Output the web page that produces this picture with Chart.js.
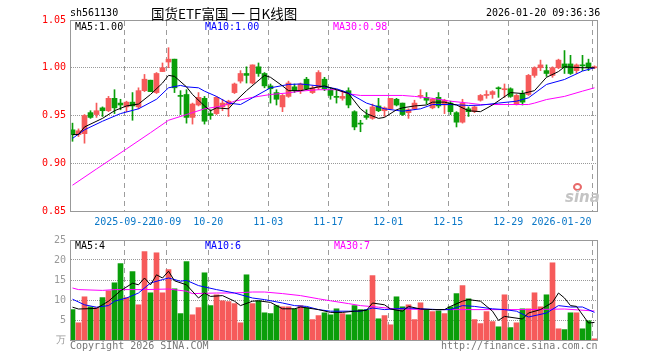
<!DOCTYPE html>
<html><head><meta charset="utf-8">
<script src="https://cdn.jsdelivr.net/npm/chart.js@4.4.1/dist/chart.umd.min.js"></script>
<style>
html,body{margin:0;padding:0;background:#fff;width:660px;height:360px;overflow:hidden;position:relative;}
canvas{position:absolute;left:0;}
#c1{top:0;width:660px;height:236px;}
#c2{top:230px;width:660px;height:130px;}
.t{position:absolute;white-space:pre;font-family:"DejaVu Sans Mono",monospace;font-size:10px;line-height:12px;}
</style></head><body>
<canvas id="c1" width="660" height="236"></canvas>
<canvas id="c2" width="660" height="130"></canvas>
<div class="t" style="left:70px;top:7px;color:#000">sh561130</div>
<div class="t" style="left:151px;top:4px;font-family:'Noto Sans CJK SC',sans-serif;font-size:13.5px;line-height:18px;color:#000">国货ETF富国 一 日K线图</div>
<div class="t" style="left:486px;top:7px;color:#000">2026-01-20 09:36:36</div>
<div class="t" style="left:75px;top:21px;color:#000">MA5:1.00</div>
<div class="t" style="left:205px;top:21px;color:#0000ff">MA10:1.00</div>
<div class="t" style="left:333px;top:21px;color:#ff00ff">MA30:0.98</div>
<div class="t" style="left:75px;top:240px;color:#000">MA5:4</div>
<div class="t" style="left:205px;top:240px;color:#0000ff">MA10:6</div>
<div class="t" style="left:334px;top:240px;color:#ff00ff">MA30:7</div>
<div class="t" style="left:70px;top:340px;color:#777">Copyright 2026 SINA.COM</div>
<div class="t" style="left:441px;top:340px;color:#777">http://finance.sina.com.cn</div>
<div style="position:absolute;left:573px;top:183px;width:5px;height:4px;border:2px solid #e86a6a;border-radius:50%;"></div>
<div class="t" style="left:565px;top:190px;font-family:'DejaVu Sans',sans-serif;font-weight:bold;font-style:italic;font-size:15px;line-height:15px;color:#c4c4c4">sina</div>
<script>
const dates = ['2025-09-09','2025-09-10','2025-09-11','2025-09-12','2025-09-15','2025-09-16','2025-09-17','2025-09-18','2025-09-19','2025-09-22',
'2025-09-23','2025-09-24','2025-09-25','2025-09-26','2025-09-29','2025-09-30','2025-10-09','2025-10-10','2025-10-13','2025-10-14',
'2025-10-15','2025-10-16','2025-10-17','2025-10-20','2025-10-21','2025-10-22','2025-10-23','2025-10-24','2025-10-27','2025-10-28',
'2025-10-29','2025-10-30','2025-10-31','2025-11-03','2025-11-04','2025-11-05','2025-11-06','2025-11-07','2025-11-10','2025-11-11',
'2025-11-12','2025-11-13','2025-11-14','2025-11-17','2025-11-18','2025-11-19','2025-11-20','2025-11-21','2025-11-24','2025-11-25',
'2025-11-26','2025-11-27','2025-11-28','2025-12-01','2025-12-02','2025-12-03','2025-12-04','2025-12-05','2025-12-08','2025-12-09',
'2025-12-10','2025-12-11','2025-12-12','2025-12-15','2025-12-16','2025-12-17','2025-12-18','2025-12-19','2025-12-22','2025-12-23',
'2025-12-24','2025-12-25','2025-12-26','2025-12-29','2025-12-30','2025-12-31','2026-01-05','2026-01-06','2026-01-07','2026-01-08',
'2026-01-09','2026-01-12','2026-01-13','2026-01-14','2026-01-15','2026-01-16','2026-01-19','2026-01-20'];

const opens = [0.935,0.930,0.931,0.953,0.951,0.958,0.955,0.968,0.963,0.959, 0.964,0.959,0.976,0.987,0.974,0.996,1.006,1.009,0.971,0.972,
0.948,0.961,0.968,0.952,0.952,0.959,0.961,0.974,0.986,0.994, 0.984,1.001,0.994,0.981,0.974,0.959,0.970,0.980,0.976,0.988,
0.974,0.979,0.988,0.977,0.970,0.968,0.976,0.954,0.942,0.950, 0.947,0.960,0.955,0.957,0.967,0.963,0.953,0.957,0.970,0.969,
0.958,0.969,0.961,0.963,0.953,0.943,0.957,0.954,0.966,0.971, 0.972,0.979,0.977,0.978,0.962,0.973,0.972,0.992,1.000,0.997,
0.992,1.000,1.004,1.004,0.997,1.003,1.005,1.000];
const highs = [0.942,0.936,0.951,0.955,0.963,0.959,0.970,0.977,0.967,0.965, 0.974,0.979,0.993,0.987,0.995,1.005,1.021,1.009,0.976,0.977,
0.963,0.974,0.970,0.956,0.970,0.967,0.966,0.984,0.997,1.001, 1.003,1.005,0.995,0.983,0.977,0.972,0.986,0.983,0.984,0.990,
0.981,0.997,0.990,0.979,0.977,0.976,0.979,0.955,0.945,0.956, 0.962,0.968,0.959,0.968,0.968,0.963,0.957,0.966,0.977,0.974,
0.968,0.974,0.967,0.965,0.954,0.967,0.959,0.960,0.972,0.976, 0.976,0.980,0.983,0.979,0.972,0.976,0.993,1.001,1.008,1.003,
1.001,1.009,1.018,1.013,1.004,1.013,1.009,1.002];
const lows = [0.923,0.928,0.921,0.947,0.948,0.949,0.954,0.952,0.956,0.954, 0.945,0.957,0.975,0.975,0.973,0.996,1.000,0.974,0.951,0.942,
0.941,0.960,0.941,0.946,0.951,0.955,0.949,0.973,0.984,0.984, 0.983,0.991,0.979,0.963,0.961,0.954,0.969,0.974,0.973,0.977,
0.973,0.977,0.976,0.967,0.963,0.966,0.958,0.935,0.933,0.946, 0.946,0.954,0.949,0.956,0.960,0.950,0.947,0.956,0.968,0.962,
0.957,0.958,0.952,0.951,0.938,0.942,0.949,0.953,0.965,0.968, 0.968,0.969,0.969,0.969,0.961,0.961,0.971,0.990,0.997,0.991,
0.990,0.999,0.994,0.993,0.994,0.997,0.997,0.999];
const closes = [0.930,0.934,0.950,0.948,0.955,0.955,0.968,0.958,0.961,0.964, 0.960,0.976,0.988,0.975,0.994,1.000,1.009,0.979,0.970,0.948,
0.962,0.969,0.944,0.950,0.969,0.963,0.965,0.983,0.994,0.992, 1.003,0.994,0.981,0.978,0.967,0.971,0.984,0.976,0.983,0.978,
0.979,0.995,0.978,0.971,0.969,0.970,0.961,0.938,0.941,0.948, 0.959,0.955,0.958,0.968,0.961,0.951,0.956,0.963,0.971,0.966,
0.967,0.960,0.966,0.954,0.943,0.963,0.954,0.959,0.971,0.972, 0.975,0.978,0.978,0.970,0.971,0.964,0.992,1.000,1.003,0.994,
1.000,1.008,1.000,0.994,1.003,1.002,1.000,1.001];
const volumes = [7.6,4.3,10.8,8.3,8.1,10.6,12.3,14.3,19.1,10.6, 17.1,8.8,22.1,11.8,21.8,11.8,17.6,12.8,6.6,19.6,
6.3,8.1,16.8,8.6,11.3,9.8,9.6,9.1,4.3,16.3, 9.1,9.8,6.8,6.6,8.6,8.3,8.3,7.8,8.6,8.1,
5.1,6.1,6.8,6.3,7.8,6.6,6.3,8.6,7.6,7.6, 16.1,5.3,6.1,3.8,10.8,8.3,8.8,5.1,9.3,7.6,
7.1,7.3,6.6,8.3,11.6,13.6,10.3,5.1,4.1,7.1, 4.6,3.3,11.3,3.1,4.3,7.8,7.8,11.8,8.3,11.3,
19.3,2.8,2.6,6.8,6.8,2.8,4.8,0.3];

// moving-average lines: [day index, value]
const ma5Price = [[0,.930],[1,.930],[2,.938],[5,.947],[7,.955],[9,.960],[11,.962],[13,.972],[15,.984],[16,.992],[17,.991],[19,.980],[20,.972],[22,.960],[23,.955],[24,.958],[26,.957],[27,.964],[29,.976],[32,.992],[33,.990],[35,.981],[36,.976],[38,.976],[41,.980],[42,.981],[44,.977],[46,.973],[48,.957],[49,.952],[51,.947],[52,.948],[54,.956],[55,.958],[57,.960],[59,.961],[60,.964],[62,.964],[64,.961],[66,.955],[68,.954],[70,.961],[73,.974],[75,.973],[77,.976],[79,.990],[81,.996],[82,1.001],[85,1.000],[87,1.000]];
const ma10Price = [[0,.926],[2,.935],[5,.944],[8,.952],[11,.957],[14,.967],[16,.979],[18,.9815],[19,.980],[21,.979],[22,.9755],[24,.970],[26,.963],[28,.9615],[30,.9685],[33,.979],[36,.9825],[38,.983],[41,.981],[44,.978],[46,.9737],[49,.963],[52,.957],[55,.9545],[58,.957],[60,.9615],[63,.9615],[66,.9605],[68,.9608],[71,.963],[74,.965],[76,.9685],[79,.9825],[82,.9877],[85,.9965],[87,1.000]];
const ma30Price = [[0,.877],[4,.894],[9,.915],[13,.932],[16,.945],[19,.951],[22,.957],[25,.960],[27,.965],[30,.969],[33,.972],[36,.9737],[38,.9755],[41,.977],[44,.977],[46,.9727],[48,.971],[55,.971],[57,.970],[60,.968],[63,.965],[66,.963],[68,.9615],[76,.9615],[77,.963],[79,.9667],[82,.970],[85,.9755],[87,.979]];
const ma5Vol = [[0,8.2],[1,7.75],[4,7.9],[6,9.7],[8,12.3],[10,14.2],[11,13.8],[12,15.5],[13,13.8],[14,16.3],[15,15.5],[16,17.2],[17,14.8],[19,13.8],[21,10.5],[22,11.75],[23,10.9],[25,11.1],[27,9.7],[28,8.6],[30,9.7],[31,9.8],[33,9.4],[35,7.8],[37,7.8],[38,8.25],[41,7.6],[43,6.9],[45,6.9],[47,7.2],[49,7.4],[50,9.25],[52,8.8],[53,7.75],[55,7.2],[56,8.4],[58,7.75],[60,7.6],[62,7.6],[63,8.4],[65,9.7],[66,10.1],[68,9.7],[70,7.2],[71,4.9],[72,5.9],[75,5.25],[76,6.75],[78,7.6],[80,9.4],[81,11.75],[82,10.5],[83,8.6],[84,8.4],[86,4.25],[87,4.4]];
const ma10Vol = [[0,10.2],[2,8.8],[4,8.2],[6,8.6],[7,9.7],[9,10.5],[11,11.75],[13,14.25],[15,15.1],[16,15.5],[18,14.7],[19,14.9],[21,13.6],[24,12.6],[27,11.75],[30,10.5],[32,10.1],[35,9.25],[37,8.6],[39,8.4],[41,7.6],[43,7.2],[46,7.2],[48,7.2],[50,8.0],[52,7.6],[56,8.0],[58,7.8],[61,7.6],[63,7.6],[65,8.6],[67,8.4],[70,7.8],[72,7.6],[74,7.2],[76,5.75],[79,6.75],[81,8.6],[83,8.25],[85,8.25],[87,6.9]];
const ma30Vol = [[0,13.0],[1,12.6],[5,12.4],[7,12.6],[12,12.6],[16,12.75],[19,12.2],[20,11.6],[24,11.75],[27,11.75],[30,12.0],[32,12.0],[35,11.6],[38,11.1],[41,10.3],[43,9.8],[46,9.1],[48,8.6],[51,8.2],[54,7.75],[60,7.6],[76,7.6],[82,7.75],[87,7.25]];

const tickDays = ['2025-09-22','2025-10-09','2025-10-20','2025-11-03','2025-11-17','2025-12-01','2025-12-15','2025-12-29','2026-01-20'];
const tickLabels = ['2025-09-22','10-09','10-20','11-03','11-17','12-01','12-15','12-29','2026-01-20'];
const priceTicks = [0.85,0.90,0.95,1.00,1.05];
const volTicks = [0,5,10,15,20,25];

const UP = '#f65a5a', DOWN = '#0a9e0a';
const colors = dates.map((d,i) => closes[i] >= opens[i] ? UP : DOWN);
const tickIdx = tickDays.map(d => dates.indexOf(d));
const XMIN = -0.4167, XMAX = 87.4167;
const gridPos = tickIdx.map(i => i - 0.375);
const labelPos = gridPos.map((p,k) => k === gridPos.length-1 ? 81.5 : p);
const FONT = {family:'DejaVu Sans Mono', size:10};
const xy = arr => arr.map(p => ({x:p[0], y:p[1]}));

// grid (dashed verticals, dotted horizontals) painted behind the marks, placed through the chart's own scales
const frameGrid = {
  id:'frameGrid',
  afterDatasetsDraw(chart){
    const {ctx, chartArea:a, scales} = chart;
    const top = Math.round(a.top), bot = Math.round(a.bottom);
    const left = Math.round(a.left), right = Math.round(a.right);
    ctx.save();
    ctx.globalCompositeOperation = 'destination-over';
    ctx.fillStyle = '#9c9c9c';
    gridPos.forEach(v => {
      const x = Math.floor(scales.x.getPixelForValue(v));
      for (let y = top + 1; y < bot; y += 9) ctx.fillRect(x, y, 1, Math.min(5, bot - y));
    });
    ctx.fillStyle = '#999';
    scales.y.ticks.forEach(t => {
      if (t.value === scales.y.min || t.value === scales.y.max) return;
      const y = Math.floor(scales.y.getPixelForValue(t.value));
      for (let x = left + 1; x < right; x += 2) ctx.fillRect(x, y, 1, 1);
    });
    ctx.restore();
  },
  afterDraw(chart){
    const {ctx, chartArea:a} = chart;
    ctx.save(); ctx.strokeStyle = '#999'; ctx.lineWidth = 1;
    ctx.strokeRect(Math.round(a.left)+0.5, Math.round(a.top)+0.5, Math.round(a.right-a.left), Math.round(a.bottom-a.top));
    ctx.restore();
  }
};
const lineDs = (data, color) => ({type:'line', data: xy(data), borderColor: color, borderWidth: 1, pointRadius: 0, tension: 0, order: 0});
const xGrid = (h) => ({
  type:'linear', min:XMIN, max:XMAX, position:'bottom', offset:false,
  afterBuildTicks(s){ s.ticks = gridPos.map(v => ({value:v})); },
  afterFit(s){ s.height = h; },
  ticks:{display:false}, grid:{display:false, offset:false, drawTicks:false}, border:{display:false}
});

new Chart(document.getElementById('c1'), {
  type:'bar',
  data:{datasets:[
    lineDs(ma5Price,'#000000'), lineDs(ma10Price,'#0000ff'), lineDs(ma30Price,'#ff00ff'),
    {type:'bar', data: dates.map((d,i)=>({x:i, y:[lows[i], highs[i]]})), backgroundColor: colors, barThickness:1, grouped:false, order:2},
    {type:'bar', data: dates.map((d,i)=>({x:i, y:[opens[i], closes[i]]})), backgroundColor: colors, barThickness:5, minBarLength:1, grouped:false, order:1}
  ]},
  options:{
    responsive:false, animation:false, devicePixelRatio:1,
    layout:{padding:{left:0, right:63, top:20, bottom:0}},
    plugins:{legend:{display:false}, tooltip:{enabled:false}},
    scales:{
      x: xGrid(0),
      xl:{type:'linear', axis:'x', min:XMIN, max:XMAX, position:'bottom', offset:false,
        afterBuildTicks(s){ s.ticks = labelPos.map(v => ({value:v})); },
        afterFit(s){ s.height = 25; },
        grid:{display:false, offset:false, drawTicks:false}, border:{display:false},
        ticks:{autoSkip:false, maxRotation:0, minRotation:0, padding:5, color:'#0b78c8', font:FONT, callback:(v,i)=>tickLabels[i]}},
      y:{min:0.85, max:1.05,
        afterBuildTicks(s){ s.ticks = priceTicks.map(v => ({value:v})); },
        afterFit(s){ s.width = 70; },
        ticks:{color:'#ff0000', font:FONT, padding:4, callback:v=>Number(v).toFixed(2)},
        grid:{display:false, drawTicks:false}, border:{display:false}}
    }
  },
  plugins:[frameGrid]
});

new Chart(document.getElementById('c2'), {
  type:'bar',
  data:{datasets:[
    lineDs(ma5Vol,'#000000'), lineDs(ma10Vol,'#0000ff'), lineDs(ma30Vol,'#ff00ff'),
    {type:'bar', data: volumes.map((v,i)=>({x:i, y:v})), backgroundColor: colors, barThickness:5, grouped:false, order:1}
  ]},
  options:{
    responsive:false, animation:false, devicePixelRatio:1,
    layout:{padding:{left:0, right:63, top:10, bottom:0}},
    plugins:{legend:{display:false}, tooltip:{enabled:false}},
    scales:{
      x: xGrid(20),
      y:{min:0, max:25,
        afterBuildTicks(s){ s.ticks = volTicks.map(v => ({value:v})); },
        afterFit(s){ s.width = 70; },
        ticks:{color:'#999', font:FONT, padding:4, callback:v=> v===0 ? '万' : String(v)},
        grid:{display:false, drawTicks:false}, border:{display:false}}
    }
  },
  plugins:[frameGrid]
});
</script>
</body></html>
